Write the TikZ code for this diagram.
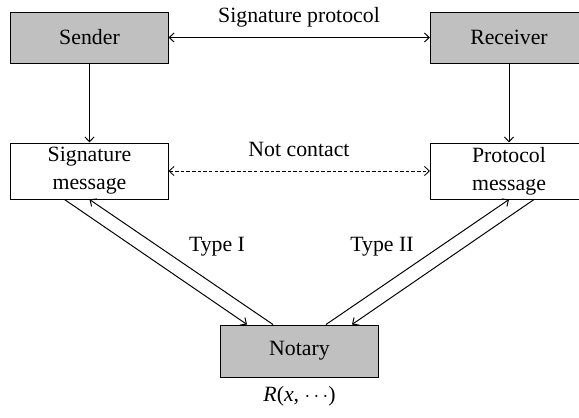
\documentclass[tikz,border=0pt]{standalone}
\usepackage{fontspec}
\setmainfont{Liberation Serif}
\usetikzlibrary{arrows.meta}
\usetikzlibrary{calc}
\definecolor{boxgray}{RGB}{192,192,192}

\begin{document}
\begin{tikzpicture}[x=0.025cm,y=-0.025cm,line width=0.7pt,
>={Straight Barb[length=3.5pt,width=6.5pt]},
every node/.style={font=\fontsize{15.5}{19.8}\selectfont},
partyblock/.style={draw,rectangle,fill=boxgray,inner sep=0pt,minimum width=3.925cm,minimum height=1.275cm,line width=0.7pt},
msgblock/.style={draw,rectangle,fill=white,align=center,inner sep=0pt,minimum width=3.925cm,minimum height=1.4cm,line width=0.7pt},
notaryblock/.style={draw,rectangle,fill=boxgray,inner sep=0pt,minimum width=3.925cm,minimum height=1.3cm,line width=0.7pt}]

\clip (0,0) rectangle (579,417);

\draw (89.5,37.5) node[partyblock] (sender) {Sender};
\draw (509,37.5) node[partyblock] (receiver) {Receiver};
\draw (89.5,171) node[msgblock] (sigmsg) {Signature\\message};
\draw (509,171) node[msgblock] (protmsg) {Protocol\\message};
\draw (299.5,351) node[notaryblock] (notary) {Notary};

%\draw[thin] (sender.south) -- (sigmsg.north);
\draw[<->] (sender) -- (receiver);
\draw (299,17) node (sigproto) {Signature protocol};
\draw[->] (sender) -- (sigmsg);
\draw[->] (receiver) -- (protmsg);
\draw[<->,dash pattern=on 2.5pt off 1.5pt,line width=0.6pt] (sigmsg) -- (protmsg);
\draw (299,149) node (nocontact) {Not contact};

% type I and type II links to the notary
\draw[->] ($(sigmsg.south)+(-25,0)$) -- ($(notary.north)+(-52.5,0)$);
\draw[->] ($(notary.north)+(-26.5,0)$) -- (sigmsg.south);
\draw[->] ($(notary.north)+(26.5,0)$) -- (protmsg.south);
\draw[->] ($(protmsg.south)+(25,0)$) -- ($(notary.north)+(52.5,0)$);
\draw (217,247) node (typeone) {Type I};
\draw (382,247) node (typetwo) {Type II};

\draw (299.5,396) node (rel) {\textit{R}(\textit{x}, $\cdots$)};

\end{tikzpicture}
\end{document}
